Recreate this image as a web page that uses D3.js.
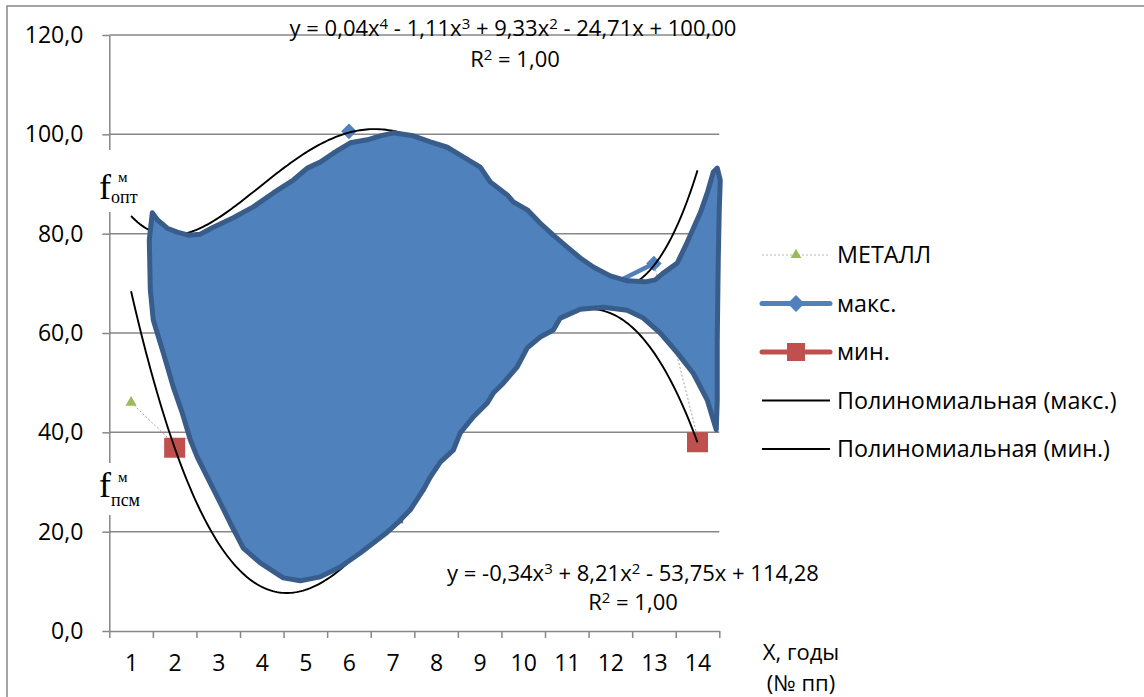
<!DOCTYPE html>
<html>
<head>
<meta charset="utf-8">
<script src="https://cdn.jsdelivr.net/npm/d3@7"></script>
<style>
  body { margin: 0; background: #fff; }
  text { font-family: "Open Sans", sans-serif; fill: #000; }
  text.serif { font-family: "Liberation Serif", "DejaVu Serif", serif; }
</style>
</head>
<body>
<svg width="1144" height="697"></svg>
<script>
// categories (years, № пп)
const categories = [1, 2, 3, 4, 5, 6, 7, 8, 9, 10, 11, 12, 13, 14];
const yTicks = [0, 20, 40, 60, 80, 100, 120];

// series values (null = empty cell)
const metalValues = [46.0, 37.6, 42.0, 55.0, 60.0, 65.0, 70.0, 72.0, 70.0, 70.0, 70.0, 70.0, 74.0, 39.0];
const maxValues = [null, null, null, null, null, 100.6, null, null, 90.1, 81.3, 73.3, 69.6, 74.0, null];
const minValues = [null, 36.9, null, null, null, null, 23.7, null, null, null, null, null, null, 38.0];

// polynomial trend coefficients, c0 + c1 x + c2 x^2 ...
const maxTrendCoef = [100.00, -24.71, 9.33, -1.11, 0.0405];
const minTrendCoef = [114.28, -53.75, 8.21, -0.34];

// hand-drawn area (category, value)
const areaOutline = [
  [1.487, 84.2], [1.601, 82.8], [1.831, 81.1], [2.060, 80.3], [2.313, 79.7], [2.588, 79.9],
  [2.887, 81.3], [3.346, 83.2], [3.805, 85.4], [4.264, 88.2], [4.723, 90.8], [5.044, 93.2],
  [5.342, 94.4], [5.641, 96.2], [6.031, 98.3], [6.421, 98.9], [6.719, 99.7], [7.018, 100.3],
  [7.477, 99.7], [7.867, 98.5], [8.257, 97.4], [8.555, 95.8], [9.014, 93.4], [9.244, 90.4],
  [9.634, 87.8], [9.772, 86.4], [10.093, 84.8], [10.391, 82.1], [10.690, 79.7], [11.011, 77.3],
  [11.310, 75.1], [11.608, 73.3], [11.998, 71.5], [12.388, 70.5], [12.801, 70.3], [13.031, 70.7],
  [13.191, 71.9], [13.536, 74.1], [13.765, 78.3], [14.063, 84.2], [14.224, 88.2], [14.362, 92.4],
  [14.453, 93.2], [14.522, 90.8], [14.499, 84.8], [14.476, 74.7], [14.453, 58.6], [14.453, 46.5],
  [14.430, 40.5], [14.224, 46.5], [13.902, 51.9], [13.536, 56.0], [13.145, 60.0], [12.755, 63.0],
  [12.388, 64.6], [11.837, 65.2], [11.310, 64.8], [10.851, 63.0], [10.690, 60.6], [10.391, 59.2],
  [10.093, 57.0], [9.863, 53.2], [9.542, 49.9], [9.313, 47.9], [9.175, 45.9], [8.854, 43.1],
  [8.555, 39.9], [8.395, 36.4], [8.096, 34.0], [7.867, 31.0], [7.706, 28.4], [7.408, 24.4],
  [7.109, 21.7], [6.880, 19.9], [6.559, 17.7], [6.260, 15.7], [5.801, 12.9], [5.342, 10.9],
  [4.883, 10.1], [4.493, 10.7], [3.965, 13.7], [3.575, 16.7], [3.277, 21.7], [3.047, 25.8],
  [2.749, 31.0], [2.519, 35.0], [2.359, 38.5], [2.175, 43.9], [1.969, 49.1], [1.739, 56.0],
  [1.509, 62.6], [1.441, 68.7], [1.418, 78.7]
];

const svg = d3.select('svg');
const grey = '#878787';

const x = d3.scaleLinear().domain([0.5, 14.5]).range([109.3, 719.3]);
const y = d3.scaleLinear().domain([0, 120]).range([631, 35]);

const poly = coef => v => coef.reduce((s, c, i) => s + c * Math.pow(v, i), 0);

// outer chart border
svg.append('rect')
    .attr('x', 7).attr('y', 6)
    .attr('width', 1160).attr('height', 720)
    .attr('fill', 'none')
    .attr('stroke', grey)
    .attr('stroke-width', 1.5);

// gridlines
svg.append('g')
  .selectAll('line')
  .data(yTicks.slice(1))
  .enter().append('line')
    .attr('x1', x(0.5)).attr('x2', x(14.5))
    .attr('y1', d => y(d)).attr('y2', d => y(d))
    .attr('stroke', grey)
    .attr('stroke-width', 1.5);

// axes
const yAxis = svg.append('g')
    .attr('transform', `translate(${x(0.5)},0)`)
    .call(d3.axisLeft(y)
      .tickValues(yTicks)
      .tickSize(7)
      .tickSizeOuter(0)
      .tickPadding(19)
      .tickFormat(d => d.toFixed(1).replace('.', ',')));

const xAxis = svg.append('g')
    .attr('transform', `translate(0,${y(0)})`)
    .call(d3.axisBottom(x)
      .tickValues(d3.range(0.5, 15, 1))
      .tickSize(7)
      .tickSizeOuter(0)
      .tickFormat(''));

const xLabels = svg.append('g')
    .attr('transform', `translate(0,${y(0)})`)
    .call(d3.axisBottom(x)
      .tickValues(categories)
      .tickSize(0)
      .tickPadding(24)
      .tickFormat(d => d));
xLabels.select('.domain').remove();

[yAxis, xAxis].forEach(g => {
  g.selectAll('.domain, line').attr('stroke', grey).attr('stroke-width', 1.5);
});
svg.selectAll('.tick text')
    .attr('font-size', 23)
    .attr('fill', '#000');

// white label boxes over the value axis
const fLabels = [
  { sub: 'опт', top: 150, bottom: 212, base: 199, subBase: 203, supBase: 182 },
  { sub: 'псм', top: 463, bottom: 515, base: 497, subBase: 506, supBase: 482 }
];
svg.append('g')
  .selectAll('rect')
  .data(fLabels)
  .enter().append('rect')
    .attr('x', 95).attr('y', d => d.top)
    .attr('width', 50).attr('height', d => d.bottom - d.top)
    .attr('fill', '#fff');

// series lines and markers
const lineGen = d3.line()
    .defined(d => d[1] != null)
    .x(d => x(d[0]))
    .y(d => y(d[1]));

const pairs = vals => categories.map((c, i) => [c, vals[i]]);

svg.append('path')
    .attr('d', lineGen(pairs(metalValues)))
    .attr('fill', 'none')
    .attr('stroke', '#a5a5a5')
    .attr('stroke-width', 1)
    .attr('stroke-dasharray', '2,2');
svg.append('g')
  .selectAll('path')
  .data(pairs(metalValues).filter(d => d[1] != null))
  .enter().append('path')
    .attr('transform', d => `translate(${x(d[0])},${y(d[1])})`)
    .attr('d', d3.symbol(d3.symbolTriangle, 55))
    .attr('fill', '#9bbb59');

svg.append('path')
    .attr('d', lineGen(pairs(maxValues)))
    .attr('fill', 'none')
    .attr('stroke', '#4f81bd')
    .attr('stroke-width', 4.5)
    .attr('stroke-linejoin', 'round');
svg.append('g')
  .selectAll('rect')
  .data(pairs(maxValues).filter(d => d[1] != null))
  .enter().append('rect')
    .attr('x', -5.5).attr('y', -5.5)
    .attr('width', 11).attr('height', 11)
    .attr('transform', d => `translate(${x(d[0])},${y(d[1])}) rotate(45)`)
    .attr('fill', '#4f81bd');

svg.append('path')
    .attr('d', lineGen(pairs(minValues)))
    .attr('fill', 'none')
    .attr('stroke', '#c0504d')
    .attr('stroke-width', 4.5);
svg.append('g')
  .selectAll('rect')
  .data(pairs(minValues).filter(d => d[1] != null))
  .enter().append('rect')
    .attr('x', d => x(d[0]) - 10.5).attr('y', d => y(d[1]) - 10)
    .attr('width', 21).attr('height', 20)
    .attr('fill', '#c0504d');

// trend lines
const trendX = d3.range(1, 14.001, 0.05);
const trendGen = d3.line().x(d => x(d[0])).y(d => y(d[1]));
[maxTrendCoef, minTrendCoef].forEach(coef => {
  const f = poly(coef);
  svg.append('path')
      .attr('d', trendGen(trendX.map(v => [v, f(v)])))
      .attr('fill', 'none')
      .attr('stroke', '#000')
      .attr('stroke-width', 1.9);
});

// hand-drawn area on top
svg.append('path')
    .attr('d', d3.line().curve(d3.curveLinearClosed)
      .x(d => x(d[0])).y(d => y(d[1]))(areaOutline))
    .attr('fill', '#4f81bd')
    .attr('stroke', '#385d8a')
    .attr('stroke-width', 5)
    .attr('stroke-linejoin', 'round');

// f labels
fLabels.forEach(d => {
  const t = svg.append('text').attr('class', 'serif');
  t.append('tspan').attr('x', 99).attr('y', d.base).attr('font-size', 36).text('f');
  t.append('tspan').attr('x', 118).attr('y', d.supBase).attr('font-size', 15).text('м');
  t.append('tspan').attr('x', 111).attr('y', d.subBase).attr('font-size', 18).text(d.sub);
});

// trend equations
const richText = (cx, cy, parts) => {
  const t = svg.append('text')
      .attr('x', cx).attr('y', cy)
      .attr('text-anchor', 'middle')
      .attr('font-size', 22);
  parts.forEach(p => {
    const s = t.append('tspan').text(p[0]);
    if (p[1]) s.attr('font-size', 15).attr('baseline-shift', '45%');
  });
};
richText(513, 36, [['y = 0,04x'], ['4', 1], [' - 1,11x'], ['3', 1], [' + 9,33x'], ['2', 1], [' - 24,71x + 100,00']]);
richText(515, 67, [['R'], ['2', 1], [' = 1,00']]);
richText(633, 581, [['y = -0,34x'], ['3', 1], [' + 8,21x'], ['2', 1], [' - 53,75x + 114,28']]);
richText(633, 610, [['R'], ['2', 1], [' = 1,00']]);

// axis title
svg.append('text').attr('x', 801).attr('y', 660).attr('text-anchor', 'middle')
    .attr('font-size', 22).text('X, годы');
svg.append('text').attr('x', 801).attr('y', 691).attr('text-anchor', 'middle')
    .attr('font-size', 22).text('(№ пп)');

// legend
const legendItems = [
  { name: 'МЕТАЛЛ', type: 'metal' },
  { name: 'макс.', type: 'max' },
  { name: 'мин.', type: 'min' },
  { name: 'Полиномиальная (макс.)', type: 'trend' },
  { name: 'Полиномиальная (мин.)', type: 'trend' }
];
const legend = svg.append('g');
const items = legend.selectAll('g')
  .data(legendItems)
  .enter().append('g')
    .attr('transform', (d, i) => `translate(762, ${255 + i * 48.5})`);

items.append('line')
    .attr('x1', 0).attr('x2', 68)
    .attr('stroke', d => ({ metal: '#b5b5b5', max: '#4f81bd', min: '#c0504d', trend: '#000' })[d.type])
    .attr('stroke-width', d => ({ metal: 1, max: 5, min: 5, trend: 1.9 })[d.type])
    .attr('stroke-linecap', d => d.type === 'max' || d.type === 'min' ? 'round' : 'butt')
    .attr('stroke-dasharray', d => d.type === 'metal' ? '2,2' : null);

items.filter(d => d.type === 'metal').append('path')
    .attr('transform', 'translate(34,0)')
    .attr('d', d3.symbol(d3.symbolTriangle, 50))
    .attr('fill', '#9bbb59');
items.filter(d => d.type === 'max').append('rect')
    .attr('x', -6).attr('y', -6).attr('width', 12).attr('height', 12)
    .attr('transform', 'translate(34,0) rotate(45)')
    .attr('fill', '#4f81bd');
items.filter(d => d.type === 'min').append('rect')
    .attr('x', 25).attr('y', -9).attr('width', 18).attr('height', 18)
    .attr('fill', '#c0504d');

items.append('text')
    .attr('x', 75)
    .attr('dy', '0.35em')
    .attr('font-size', 23.3)
    .text(d => d.name);
</script>
</body>
</html>
